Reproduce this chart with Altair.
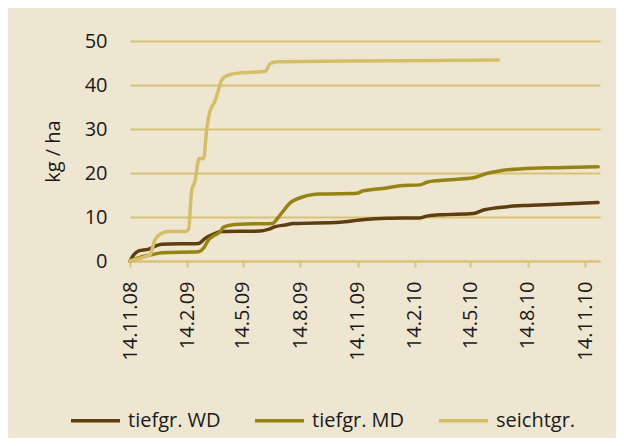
import altair as alt
import pandas as pd

series_names = ["tiefgr. WD", "tiefgr. MD", "seichtgr."]
series_colors = ["#5E3E0F", "#958414", "#D5BE68"]

wd_dates = ["2008-11-14", "2008-11-20", "2008-11-28", "2008-12-14", "2008-12-25", "2009-01-04",
            "2009-03-04", "2009-03-15", "2009-03-28", "2009-04-10", "2009-06-11", "2009-06-24",
            "2009-07-05", "2009-07-21", "2009-08-03", "2009-10-17", "2009-11-18", "2009-12-31",
            "2010-02-22", "2010-03-05", "2010-03-26", "2010-05-19", "2010-06-04", "2010-06-25",
            "2010-08-07", "2010-09-30", "2010-12-05"]
wd_values = [0.0, 1.4, 2.3, 2.7, 3.4, 3.8,
             4.0, 5.2, 6.1, 6.7, 6.8, 7.2,
             7.8, 8.2, 8.5, 8.8, 9.3, 9.7,
             9.8, 10.2, 10.5, 10.8, 11.6, 12.1,
             12.6, 12.9, 13.3]

md_dates = ["2008-11-14", "2008-11-22", "2008-12-03", "2008-12-19", "2009-01-04", "2009-03-04",
            "2009-03-12", "2009-03-20", "2009-03-28", "2009-04-08", "2009-04-13", "2009-04-26",
            "2009-05-18", "2009-06-30", "2009-07-13", "2009-07-29", "2009-08-19", "2009-09-15",
            "2009-11-13", "2009-11-22", "2009-12-31", "2010-01-21", "2010-02-22", "2010-03-05",
            "2010-03-26", "2010-05-19", "2010-06-09", "2010-07-01", "2010-08-23", "2010-09-30",
            "2010-12-05"]
md_values = [0.0, 0.4, 1.0, 1.4, 1.9, 2.1,
             2.9, 4.8, 5.7, 6.7, 7.7, 8.2,
             8.4, 8.5, 10.5, 13.2, 14.6, 15.2,
             15.4, 15.9, 16.6, 17.1, 17.3, 17.9,
             18.3, 18.9, 19.9, 20.5, 21.1, 21.2,
             21.4]

se_dates = ["2008-11-14", "2008-12-08", "2008-12-16", "2008-12-24", "2009-01-04", "2009-01-14",
            "2009-02-10", "2009-02-16", "2009-02-21", "2009-02-26", "2009-03-05", "2009-03-12",
            "2009-03-17", "2009-03-22", "2009-03-30", "2009-04-05", "2009-04-10", "2009-04-21",
            "2009-05-07", "2009-06-19", "2009-06-27", "2009-07-08", "2010-01-21", "2010-06-28"]
se_values = [0.0, 1.0, 1.4, 4.8, 6.3, 6.7,
             6.7, 7.2, 16.1, 18.0, 23.3, 23.3,
             29.8, 33.9, 36.2, 38.9, 41.1, 42.3,
             42.7, 43.1, 44.9, 45.3, 45.5, 45.7]

tick_dates = ["2008-11-14", "2009-02-14", "2009-05-14", "2009-08-14", "2009-11-14",
              "2010-02-14", "2010-05-14", "2010-08-14", "2010-11-14"]
x_domain = ["2008-11-14", "2010-12-08"]
y_ticks = [0, 10, 20, 30, 40, 50]


def ms(d):
    return int(pd.Timestamp(d, tz="UTC").timestamp() * 1000)


frames = []
for name, dts, vals in [(series_names[0], wd_dates, wd_values),
                        (series_names[1], md_dates, md_values),
                        (series_names[2], se_dates, se_values)]:
    frames.append(pd.DataFrame({"date": [ms(d) for d in dts], "value": vals, "series": name}))
df = pd.concat(frames, ignore_index=True)

FONT = "Open Sans"
GOLD = "#D8C27A"
TXT = "#1a1a1a"

chart = alt.Chart(df).mark_line(strokeWidth=3.5, interpolate="monotone", strokeCap="round").encode(
    x=alt.X("date:T",
            scale=alt.Scale(type="utc", domain=[ms(d) for d in x_domain], nice=False),
            axis=alt.Axis(values=[ms(d) for d in tick_dates],
                          labelExpr="utcFormat(datum.value, '%d.%-m.%y')",
                          labelAngle=270, labelFontSize=20, labelFont=FONT, labelColor=TXT,
                          labelPadding=14, tickSize=6, tickColor=GOLD, tickWidth=2,
                          domainColor=GOLD, domainWidth=2, grid=False, title=None)),
    y=alt.Y("value:Q",
            scale=alt.Scale(domain=[0, 50], nice=False),
            axis=alt.Axis(values=y_ticks, labelFontSize=20, labelFont=FONT, labelColor=TXT,
                          labelPadding=23, ticks=False, domain=False, grid=True,
                          gridColor=GOLD, gridWidth=2, title="kg / ha",
                          titleFont=FONT, titleFontSize=20, titleFontWeight="normal",
                          titleColor=TXT, titlePadding=21)),
    color=alt.Color("series:N",
                    scale=alt.Scale(domain=series_names, range=series_colors),
                    legend=alt.Legend(title=None, orient="none", direction="horizontal",
                                      legendX=-61, legendY=353,
                                      symbolType="stroke", symbolSize=2400, symbolStrokeWidth=3.5,
                                      labelFontSize=20, labelFont=FONT, labelColor=TXT,
                                      labelOffset=6, columnPadding=27, labelLimit=300)),
    order=alt.Order("date:T"),
).properties(
    width=470, height=220,
    background="#EFE6D1",
    padding={"left": 122, "top": 33, "right": 16, "bottom": 177},
    autosize=alt.AutoSizeParams(type="none"),
).configure_view(stroke=None)

chart.save("out.html", embed_options={"renderer": "svg", "actions": False})
